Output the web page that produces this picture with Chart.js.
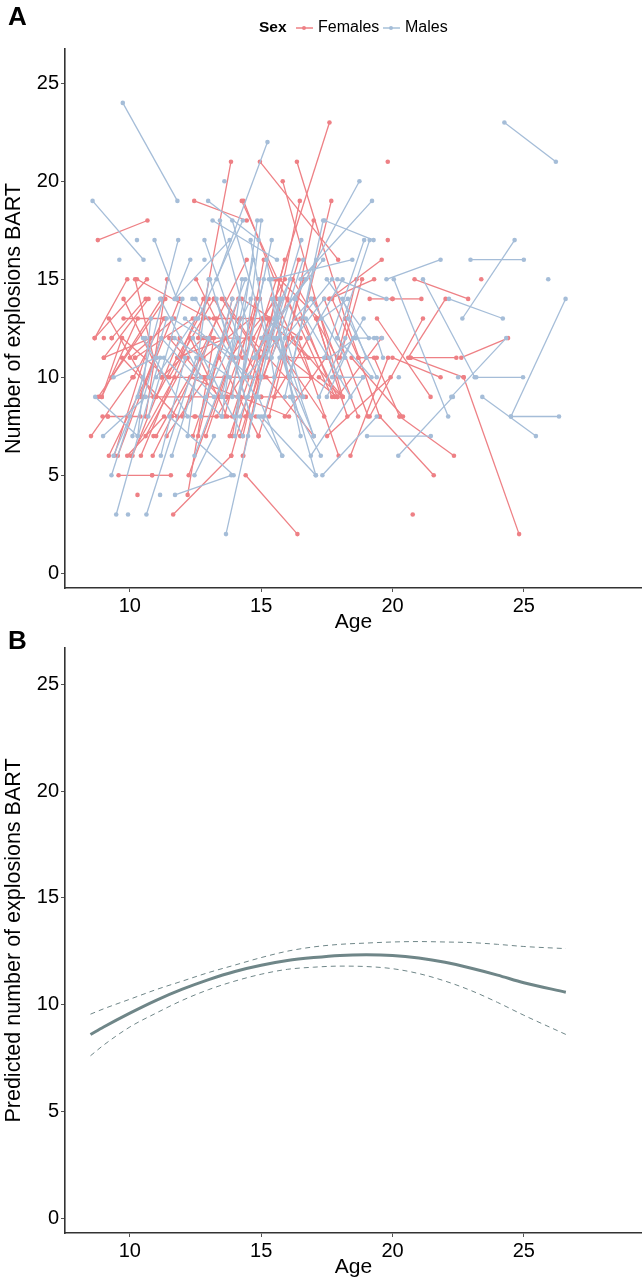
<!DOCTYPE html>
<html>
<head>
<meta charset="utf-8">
<script src="https://cdn.jsdelivr.net/npm/chart.js@4"></script>
<style>
  html, body { margin: 0; padding: 0; background: #fff; }
  body { width: 642px; height: 1280px; position: relative; overflow: hidden; font-family: "Liberation Sans", Arial, sans-serif; color: #000; }
  .box { position: absolute; left: 0; width: 642px; }
  .tag { position: absolute; left: 8px; font-weight: bold; font-size: 26px; line-height: 26px; }
  .legend { position: absolute; top: 18px; left: 259px; height: 18px; font-size: 16px; line-height: 18px; white-space: nowrap; }
  .legend b { position: absolute; left: 0; font-size: 15.5px; }
  .legend span { position: absolute; }
  .key { position: absolute; top: 9px; width: 17px; height: 1.5px; }
  .key i { position: absolute; left: 6px; top: -1px; width: 4px; height: 4px; border-radius: 50%; background: inherit; }
</style>
</head>
<body>
<div class="box" style="top:0;height:635px"><canvas id="panelA" width="642" height="635"></canvas></div>
<div class="box" style="top:600px;height:680px"><canvas id="panelB" width="642" height="680"></canvas></div>
<div class="tag" style="top:3px">A</div>
<div class="tag" style="top:627px">B</div>
<div class="legend">
  <b>Sex</b>
  <div class="key" style="left:37px;background:#f2a0a3"><i style="background:#ee8085"></i></div>
  <span style="left:59px">Females</span>
  <div class="key" style="left:124px;background:#bcd0e2"><i style="background:#a5bdd8"></i></div>
  <span style="left:146px">Males</span>
</div>
<script>
// age1, explosions1, age2, explosions2 per participant
const femaleLines = [
  [8.78,17,10.67,18],[12.45,19,14.45,18],[13.85,21,12.6,12],[14.26,19,16.3,13],[14.33,19,15.5,15],
  [10.65,15,8.66,12],[10.27,15,13,13],[10.2,15,10.9,11],[11.42,15,10.6,8],[12.52,15,14,11],[14.45,16,12.6,11],
  [9.76,14,11.2,10],[10.71,14,9.01,11],[11.35,14,8.8,9],[11.2,14,9.3,10],[11.89,14,10.4,9],[12.8,14,11.9,11],[13.2,14,14.9,10],
  [14.13,14,12.4,7],[14.26,14,16.5,12],[14.95,14,13.6,9],[9.01,11,10.8,12],[8.66,12,9.9,15],[9.31,12,10.6,14],[9.7,12,11.4,10],
  [10.8,12,9.4,6],[11.9,12,10.1,6],[12.3,12,13.7,8],[12.9,12,14.7,12],[13.1,12,11.0,7],[14.15,12,12.9,7],[14.6,12,16.6,9],
  [10,11,11.7,13],[12.8,11,14.6,13],[13.4,11,14.9,7],[13.8,11,15.6,14],[14.3,11,15.9,15],[14.95,11,13.5,14],
  [10.14,10,11.3,13],[11.2,10,12.8,12],[11.5,10,13.2,14],[12.8,10,14.5,10],[13,10,14.9,10],[14.9,10,16.9,10],
  [8.93,9,9.7,12],[10.5,9,12.3,9],[12.3,9,13.7,9],[13.7,9,15.0,9],[15,9,16.7,9],[8.52,7,10.1,10],[8.96,8,9.16,8],[9.16,8,10.4,8],
  [9.2,6,11,11],[9.54,6,11.2,12],[10.04,6,11.7,10],[10.42,6,12.3,12],[10.87,6,12.7,11],[9.9,6,11.3,8],
  [9.57,5,10.85,5],[10.85,5,11.56,5],[12.24,5,13.6,10],[12.2,4,13.2,12],[14.41,5,16.38,2],[11.65,3,13.86,6],[13.86,6,15.3,13],[14.32,6,15.7,15],
  [12.46,8,14.8,8],[11.6,8,12.5,8],[13.3,8,15.2,12],[13.9,7,15.1,16],[14.2,7,15.8,14],[13.6,8,14.8,14],[14.9,7,16,12],[11.4,7,12.9,10],[10.6,7,12.2,11],
  [15.58,15,13.9,8],[15.3,13,13.8,7],[15.7,12,14.4,8],[15.2,13,16.8,11],[15.4,12,17.4,8],[15.8,11,17.5,11],[16,14,17.7,9],[16,11,17.9,9],
  [16.2,12,18.1,9],[16.5,13,17.9,9],[16.3,14,17.8,9],[16.6,15,15.3,8],[16.8,12,15.5,9],[17.1,13,18.28,8],[17,14,18.69,8],
  [17.6,23,15.7,15],[16.36,21,18.2,13],[14.95,21,17.93,16],[15.82,20,18.1,9],[17.67,19,16.6,13],[16.47,19,15.4,12],[17,18,15.9,11],[15.9,16,14.3,7],[16.43,16,15.1,10],
  [19.59,16,17.6,14],[17.6,14,19.3,15],[18.63,15,17.9,11],[18.84,15,18.0,11],[15.7,15,17.2,13],[16.2,15,17.9,11],[17.4,14,19.07,8],[17.7,14,18.7,11],
  [19.13,14,20,14],[20,14,21.1,14],[18.2,13,19.51,8],[19.41,13,21.45,9],[21.16,13,19.13,8],[22.02,14,20.6,11],[20.84,15,22.88,14],[19.58,12,17.9,9],
  [18.44,11,20.4,8],[18.7,11,19.4,11],[19.3,11,20.27,8],[19.83,11,18.4,6],[20,11,21.83,10],[20.69,11,22.43,11],[20.69,11,22.71,10],[22.62,11,24.4,12],[22.71,10,24.82,2],
  [20.27,8,22.34,6],[19.51,8,21.57,5],[17.51,7,19.93,10],[17.95,6,16.4,12],[16.9,10,15.5,14],[16.06,8,14.2,9],[17.46,11,15.9,8],[17.2,10,18.1,9],
  [12.8,13,14.2,13],[14.2,13,15,13],[11.2,10,12.8,10],[9.76,13,11.35,13],[10.3,13,8.93,9],[9.2,13,10.9,9],[9.7,11,11.8,8],[10.2,11,12.4,13],
  [11,9,13,14],[11.8,11,13.7,12],[12.3,10,14.1,9],[12,8,13.3,13],[12.6,7,13.9,14],[11.5,12,13.4,9],[17.1,13,17.8,10],[15.2,10,17,7.0],[13.6,14,15,11]
];
const femaleDots = [[19.82,21],[19.82,17],[23.38,15],[20.77,3],[10.29,4],[13.2,13],[11.6,12],[9.01,12],[9.31,12],[10.2,11],[14.3,6],[10.9,7]];

const maleLines = [
  [9.73,24,11.81,19],[8.58,19,10.52,16],[10.94,17,11.79,14],[11.84,17,10.3,9],[12.3,16,11.7,14],[12.98,19,14.9,17],[11.72,14,13.8,17],
  [14.3,18,12.6,13],[15.24,22,13.3,15],[13.43,18,15,10],[13.15,18,15.6,16],[12.84,17,14.4,11],[13.9,18,15.2,12],[14.85,18,13.9,9],
  [9.48,3,11.15,11],[10.63,3,12.53,11],[9.3,5,10.5,10],[11.72,4,13.86,5],[13.66,2,15,10],[9.38,10,11,11],[8.68,9,10.3,7],[8.98,7,10.6,9],
  [9.38,6,10,8],[11.18,6,12.1,11],[11.6,6,13,12],[12.46,6,14.1,12],[12.46,5,13.2,7],[13.95,5,11.5,8],[10.1,7,11.4,13],[10.3,7,10.8,13],
  [10.7,8,12,14],[11.2,12,13.2,9],[11.3,11,13.5,8],[11.7,12,13.8,10],[11.6,13,14.1,11],[12.4,12,14.3,7],[12.1,13,14.6,10],[12.5,14,14.8,9],
  [13,15,12.2,7],[13.3,14,14.6,8],[13.9,14,12.7,8],[12.9,9,14.6,14],[13,10,14.4,15],[13.5,9,14.7,16],[14,8,15.4,17],[14.2,8,15.6,13],[14.5,7,15.7,14],
  [15,18,14,7],[14.6,17,15.5,10],[15.1,15,14.1,9],[15.2,16,16.2,9],[15.4,14,16.5,7],[15.5,13,17,7],[15.6,12,17.08,5],[15,8,17.08,5],[14.9,8,15.8,6],
  [15.3,15,16.6,9],[15.8,14,14.5,9],[16.1,15,14.8,11],[16.3,14,15.1,8],[16.6,16,15.4,11],[16.53,17,15.2,11],[15.7,11,17.4,14],[15.9,12,17.7,15],
  [14.4,10,16.9,14],[14.7,11,16.7,15],[15,12,17.36,16],[15.9,9,17.1,16],[16.1,10,17.36,18],[18.74,20,16.3,14],[19.22,19,16.5,15],[17.42,18,19.28,17],
  [18.92,17,17.4,11],[19.13,17,17.9,12],[18.47,16,15.4,15],[19.77,15,21.83,16],[20.05,15,22.12,8],[21.16,15,23.13,10],[17.9,15,19.77,14],[22.15,14,24.2,13],
  [24.65,17,22.66,13],[22.97,16,25,16],[24.26,23,26.22,21],[26.59,14,24.51,8],[24.51,8,26.34,8],[23.42,9,25.46,7],[24.33,12,22.24,9],[23.19,10,24.97,10],
  [19.03,7,21.46,7],[20.22,6,22.3,9],[17.33,5,19.4,8],[16.89,6,18.88,10],[17.27,6,16.1,9],[17,7,15.5,12],[15.8,6,14.9,9],[18,10,18.88,10],[17.2,9,18.2,12],
  [17.6,11,18.6,12],[16.8,12,18.1,15],[17.3,13,18.3,14],[16.9,14,18.2,11],[17.5,15,19.1,12],[18.3,13,19.4,10],[18.6,12,19.6,12],[17.7,10,18.9,13],[19.64,11,19.4,12],
  [13.05,15,14.6,8],[14.27,15,13.5,8],[11.15,14,12.7,10],[10.5,12,12.2,8],[11,10,12.5,13],[17.9,12,19.2,10],[17.5,9,18.5,12],[18.1,14,19,11],[16.7,13,18.4,9]
];
const maleDots = [[10.27,17],[13.6,20],[12.84,16],[9.93,3],[11.15,4],[25.93,15],[22.5,10],[20.24,10],[10.6,12],[9.6,16],[12.38,14],[14.9,15],[19.3,12]];

// age, prediction, upper and lower band of panel B
const predAges = [8.5,9,10,11,12,13,14,15,16,17,18,19,20,21,22,23,24,25,26.6];
const predMean = [8.6,8.95,9.6,10.2,10.72,11.17,11.55,11.84,12.06,12.2,12.3,12.33,12.3,12.18,11.98,11.7,11.38,11.02,10.58];
const predUpper = [9.55,9.8,10.25,10.7,11.1,11.5,11.85,12.2,12.5,12.7,12.82,12.88,12.93,12.95,12.93,12.9,12.82,12.72,12.62];
const predLower = [7.6,8.1,8.95,9.6,10.2,10.7,11.1,11.42,11.65,11.75,11.8,11.78,11.68,11.45,11.1,10.65,10.1,9.5,8.6];

const xTicks = [10,15,20,25];
const yTicks = [0,5,10,15,20,25];

const RED = '#ee8085', BLUE = '#a5bdd8', CURVE = '#6f8688';

function lineSet(rows, color) {
  return rows.map(r => ({
    data: [{x:r[0],y:r[1]},{x:r[2],y:r[3]}], showLine:true, borderColor:color, borderWidth:1.3,
    pointRadius:2.3, pointBackgroundColor:color, pointBorderWidth:0
  }));
}
function dotSet(rows, color) {
  return [{ data: rows.map(r => ({x:r[0],y:r[1]})), showLine:false, pointRadius:2.3, pointBackgroundColor:color, pointBorderWidth:0 }];
}
function curve(ys, color, width, dash) {
  return { data: predAges.map((a,i) => ({x:a,y:ys[i]})), showLine:true, borderColor:color, borderWidth:width,
    borderDash:dash, pointRadius:0, cubicInterpolationMode:'monotone' };
}

function options(yTitle, top, bottom, yMin, yMax) {
  const font = { family:'"Liberation Sans", Arial, sans-serif' };
  return {
    responsive:false, animation:false, events:[],
    layout:{ autoPadding:false, padding:{ top:top, bottom:0, left:0, right:0 } },
    plugins:{ legend:{display:false}, tooltip:{enabled:false} },
    scales:{
      x:{ type:'linear', min:7.53, max:29.5,
        afterBuildTicks:s => { s.ticks = xTicks.map(v => ({value:v})); },
        afterFit:s => { s.height = bottom; },
        grid:{ drawOnChartArea:false, tickLength:4, color:'#555', tickWidth:1 },
        border:{ color:'#333', width:1.6 },
        ticks:{ color:'#000', font:{...font, size:20}, padding:2, maxRotation:0 },
        title:{ display:true, text:'Age', color:'#000', font:{...font, size:21}, padding:{top:-2,bottom:0} } },
      y:{ type:'linear', min:yMin, max:yMax,
        afterBuildTicks:s => { s.ticks = yTicks.map(v => ({value:v})); },
        afterFit:s => { s.width = 65; },
        grid:{ drawOnChartArea:false, tickLength:4, color:'#555', tickWidth:1 },
        border:{ color:'#333', width:1.6 },
        ticks:{ color:'#000', font:{...font, size:20}, padding:2 },
        title:{ display:true, text:yTitle, color:'#000', font:{...font, size:21.5}, padding:{top:1,bottom:0} } }
    }
  };
}

new Chart(document.getElementById('panelA'), {
  type:'scatter',
  data:{ datasets:[ ...lineSet(maleLines, BLUE), ...dotSet(maleDots, BLUE), ...lineSet(femaleLines, RED), ...dotSet(femaleDots, RED) ] },
  options:options('Number of explosions BART', 49, 47, -0.75, 26.75)
});

new Chart(document.getElementById('panelB'), {
  type:'scatter',
  data:{ datasets:[ curve(predUpper, CURVE, 1, [5,4]), curve(predLower, CURVE, 1, [5,4]), curve(predMean, CURVE, 3, []) ] },
  options:options('Predicted number of explosions BART', 48, 47, -0.7, 26.7)
});
</script>
</body>
</html>
